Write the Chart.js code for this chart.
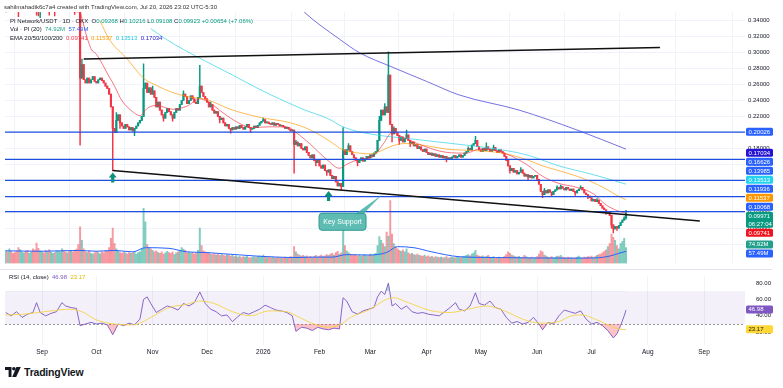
<!DOCTYPE html>
<html>
<head>
<meta charset="utf-8">
<script src="https://cdn.jsdelivr.net/npm/chart.js@4.4.1/dist/chart.umd.min.js"></script>
<style>
html,body{margin:0;padding:0;background:#fff;}
#wrap{position:relative;width:783px;height:388px;overflow:hidden;font-family:"Liberation Sans",Arial,sans-serif;color:#131722;}
canvas{position:absolute;left:0;}
#top{top:0;}
#rsi{top:270px;}
.txt{position:absolute;white-space:pre;font-size:6px;line-height:8px;}
.sep{position:absolute;left:0;width:772px;height:1px;background:#e0e3eb;}
#logo{position:absolute;left:5px;top:366px;font-size:10.5px;font-weight:bold;letter-spacing:-0.2px;display:flex;align-items:center;gap:3px;}
</style>
</head>
<body>
<div id="wrap">
  <canvas id="top" width="783" height="270"></canvas>
  <canvas id="rsi" width="783" height="90"></canvas>
  <div class="sep" style="top:269px"></div>
  <div class="txt" style="left:4px;top:3px;color:#333">sahilmahadik6c7a4 created with TradingView.com, Jul 20, 2026 23:02 UTC-5:30</div>
  <div class="txt" id="leg1" style="left:10px;top:17px"></div>
  <div class="txt" id="leg2" style="left:10px;top:25px"></div>
  <div class="txt" id="leg3" style="left:10px;top:34px"></div>
  <div class="txt" id="leg4" style="left:9px;top:273px"></div>
  <div id="logo"><svg width="16" height="10" viewBox="0 0 16 10"><path d="M0 0h6.5v10H3.6V3H0z" fill="#131722"/><circle cx="8.9" cy="1.8" r="1.8" fill="#131722"/><path d="M11.4 0h4.4l-4.6 10H7.2z" fill="#131722"/></svg><span>TradingView</span></div>
</div>
<script>
// ---- data (day index 0 = 12 Aug 2025, daily candles to 20 Jul 2026) ----
const closes = [
0.372,0.368,0.375,0.37,0.364,0.36,0.358,0.355,0.362,0.366,
0.37,0.368,0.364,0.366,0.372,0.368,0.362,0.356,0.354,0.358,
0.362,0.36,0.356,0.358,0.355,0.357,0.36,0.356,0.358,0.362,
0.365,0.368,0.364,0.36,0.362,0.358,0.36,0.357,0.355,0.354,
0.353,0.268,0.285,0.266,0.262,0.268,0.262,0.266,0.27,0.264,
0.262,0.266,0.268,0.265,0.262,0.258,0.255,0.248,0.232,0.205,
0.2,0.215,0.222,0.212,0.208,0.205,0.21,0.207,0.203,0.206,
0.202,0.205,0.208,0.212,0.215,0.22,0.255,0.262,0.25,0.256,
0.248,0.252,0.244,0.232,0.238,0.228,0.222,0.218,0.225,0.23,
0.226,0.222,0.218,0.225,0.23,0.228,0.235,0.24,0.248,0.245,
0.236,0.24,0.246,0.242,0.238,0.236,0.244,0.258,0.25,0.245,
0.242,0.238,0.232,0.235,0.228,0.224,0.226,0.22,0.216,0.218,
0.212,0.208,0.21,0.205,0.203,0.206,0.204,0.207,0.205,0.209,
0.206,0.204,0.207,0.21,0.206,0.204,0.205,0.208,0.206,0.209,
0.212,0.214,0.216,0.212,0.213,0.211,0.21,0.212,0.209,0.211,
0.21,0.208,0.209,0.207,0.205,0.206,0.204,0.202,0.203,0.185,
0.188,0.183,0.186,0.18,0.178,0.182,0.175,0.171,0.168,0.172,
0.165,0.162,0.165,0.158,0.155,0.159,0.152,0.15,0.153,0.146,
0.142,0.145,0.138,0.133,0.136,0.132,0.178,0.172,0.178,0.183,
0.176,0.172,0.168,0.165,0.162,0.165,0.168,0.164,0.167,0.17,
0.168,0.172,0.17,0.174,0.176,0.19,0.215,0.228,0.222,0.232,
0.225,0.272,0.21,0.198,0.205,0.2,0.196,0.19,0.194,0.188,
0.192,0.197,0.19,0.186,0.188,0.183,0.185,0.18,0.182,0.178,
0.176,0.179,0.175,0.172,0.174,0.171,0.173,0.17,0.172,0.169,
0.171,0.168,0.17,0.166,0.168,0.167,0.169,0.171,0.168,0.17,
0.172,0.169,0.171,0.174,0.176,0.18,0.178,0.184,0.186,0.19,
0.182,0.178,0.176,0.18,0.177,0.182,0.179,0.176,0.178,0.181,
0.177,0.175,0.178,0.176,0.174,0.17,0.165,0.158,0.152,0.155,
0.15,0.152,0.148,0.15,0.153,0.149,0.145,0.147,0.144,0.146,
0.143,0.145,0.146,0.141,0.135,0.126,0.122,0.127,0.124,0.128,
0.125,0.122,0.126,0.128,0.131,0.129,0.132,0.13,0.128,0.131,
0.129,0.127,0.129,0.126,0.124,0.127,0.129,0.131,0.128,0.124,
0.122,0.12,0.118,0.114,0.116,0.113,0.115,0.111,0.108,0.105,
0.103,0.099,0.1,0.096,0.084,0.079,0.082,0.08,0.083,0.087,
0.09,0.09268,0.09923
];
const wickLows = [[7,0.345],[17,0.347],[18,0.346],[19,0.344],[24,0.347],[27,0.346],[38,0.348],[41,0.184],[59,0.152],[63,0.205],[71,0.196],[87,0.214],[92,0.214],[118,0.212],[124,0.199],[135,0.2],[159,0.149],[171,0.158],[177,0.146],[185,0.128],[194,0.158],[213,0.188],[217,0.185],[223,0.182],[243,0.163],[278,0.149],[288,0.14],[296,0.118],[301,0.12],[314,0.121],[321,0.117],[331,0.097],[334,0.08],[335,0.074],[337,0.077],[342,0.09108]];
const wickHighs = [[42,0.292],[61,0.225],[76,0.286],[81,0.258],[98,0.252],[107,0.284],[113,0.238],[142,0.218],[160,0.19],[186,0.206],[189,0.186],[206,0.22],[209,0.236],[211,0.301],[214,0.207],[221,0.203],[255,0.182],[259,0.195],[265,0.187],[269,0.184],[284,0.156],[297,0.13],[304,0.133],[306,0.134],[317,0.133],[326,0.117],[341,0.094],[342,0.10216]];
const volumes = [
62,55,70,58,48,52,60,75,66,54, 50,58,62,48,55,70,64,97,72,60,
55,50,62,58,66,54,48,52,60,58, 56,70,62,54,50,58,62,55,60,68,
90,175,110,70,55,52,60,48,45,50, 58,52,46,55,50,62,58,75,120,168,
95,70,60,52,48,55,50,46,52,48, 50,58,45,52,55,70,263,198,90,75,
70,62,55,60,52,48,55,45,50,58, 52,48,55,42,50,55,60,75,68,62,
50,55,48,52,45,50,62,168,85,60, 55,48,52,45,42,48,40,45,38,42,
40,36,42,38,35,40,32,36,30,34, 28,32,30,35,28,26,30,32,28,34,
36,32,40,30,28,32,26,30,28,25, 30,26,28,24,30,26,28,32,30,80,
55,45,40,35,38,32,36,30,34,28, 32,38,30,35,40,32,36,42,38,45,
48,40,52,58,45,50,160,85,60,52, 45,40,38,42,36,40,35,38,42,36,
40,45,38,42,48,85,128,110,95,80, 150,130,300,140,95,80,70,62,58,65,
55,70,50,45,48,42,40,45,38,36, 35,40,32,36,30,34,28,32,30,28,
30,26,28,32,25,28,30,26,28,32, 30,28,32,35,38,42,36,45,50,62,
40,35,32,36,30,34,38,30,28,32, 28,26,30,25,28,35,42,55,48,40,
36,32,30,34,28,30,38,32,28,26, 30,25,28,32,45,60,55,40,35,30,
28,32,26,30,35,32,38,30,28,25, 30,26,28,24,26,30,35,28,25,30,
28,32,30,35,28,32,38,42,45,50, 58,65,80,95,140,125,110,85,70,95,
105,120,74.92
];
const volMa = [[0,60],[20,58],[40,62],[50,58],[60,62],[70,55],[77,75],[90,72],[100,55],[110,52],[120,46],[130,40],[140,34],[150,30],[160,28],[170,30],[180,30],[188,42],[200,40],[210,52],[216,80],[225,75],[235,55],[250,32],[270,28],[290,26],[310,25],[325,26],[333,35],[338,48],[342,57.49]];

const ema20 = [[40,0.36],[47,0.305],[50,0.298],[57,0.27],[60,0.258],[64,0.24],[70,0.226],[74,0.221],[78,0.23],[83,0.234],[92,0.229],[100,0.233],[107,0.242],[111,0.239],[122,0.221],[130,0.21],[136,0.206],[145,0.207],[155,0.207],[160,0.2],[168,0.185],[177,0.166],[184,0.155],[188,0.16],[195,0.166],[202,0.169],[208,0.185],[213,0.2],[217,0.196],[228,0.185],[243,0.175],[254,0.174],[261,0.179],[268,0.178],[276,0.173],[287,0.16],[296,0.145],[305,0.136],[315,0.131],[324,0.123],[331,0.109],[337,0.102],[342,0.0985]];
const ema50 = [[52,0.34],[57,0.317],[67,0.292],[76,0.268],[83,0.259],[92,0.25],[100,0.245],[111,0.241],[125,0.228],[140,0.219],[157,0.212],[168,0.203],[178,0.19],[186,0.178],[195,0.174],[201,0.173],[208,0.178],[213,0.183],[220,0.186],[230,0.184],[243,0.179],[260,0.177],[274,0.174],[287,0.166],[296,0.158],[305,0.152],[315,0.145],[324,0.137],[331,0.129],[337,0.121],[342,0.1154]];
const ema100 = [[80,0.33],[89,0.316],[107,0.293],[125,0.272],[140,0.254],[151,0.242],[165,0.228],[177,0.218],[187,0.206],[201,0.198],[223,0.192],[250,0.185],[268,0.18],[287,0.172],[305,0.158],[324,0.147],[342,0.1351]];
const ema200 = [[160,0.362],[165,0.35],[184,0.317],[195,0.3],[213,0.282],[232,0.264],[250,0.247],[283,0.228],[315,0.203],[342,0.179]];
const emaLegend = [0.09741, 0.11537, 0.13513, 0.17034];

const levels = [0.20026, 0.16626, 0.13985, 0.11936, 0.10068];
const upperTrend = [[43,0.2921],[360.7,0.3065]];
const lowerTrend = [[58.9,0.1523],[382.7,0.0888]];
const supportArrows = [59, 178];
const lastPrice = 0.09971, countdown = '06:27:04';
const changeText = '+0.00654 (+7.06%)';
const lastVol = 74.92, lastVolMa = 57.49;

const rsi = [[0,44],[3,40],[6,45],[9,38],[12,42],[15,44],[17,56],[19,44],[22,40],[25,43],[28,45],[31,56],[33,52],[36,50],[39,49],[41,28],[44,30],[47,32],[50,30],[53,31],[56,29],[59,17],[62,30],[65,28],[68,31],[71,29],[74,36],[76,60],[78,63],[80,55],[83,44],[86,48],[89,52],[92,50],[95,47],[98,55],[101,52],[104,56],[107,69],[110,55],[113,48],[116,45],[119,40],[122,41],[125,33],[128,39],[131,44],[134,42],[137,45],[140,48],[143,53],[146,50],[149,47],[152,46],[155,44],[158,40],[160,21],[163,26],[166,25],[169,22],[172,26],[175,24],[178,23],[181,25],[184,24],[186,62],[188,58],[191,45],[194,42],[197,46],[200,48],[203,50],[205,63],[207,70],[209,66],[211,80],[213,52],[215,55],[218,48],[221,52],[224,45],[227,43],[230,44],[233,42],[236,41],[239,40],[242,45],[245,50],[248,56],[250,48],[253,46],[256,52],[259,68],[261,55],[264,53],[267,58],[270,50],[273,48],[276,38],[279,31],[282,33],[285,30],[288,32],[291,38],[294,30],[296,23],[299,32],[302,30],[305,40],[308,47],[311,45],[314,43],[317,46],[320,36],[323,30],[326,32],[329,28],[332,22],[335,13],[337,18],[339,28],[341,40],[342,46.98]];
const rsiMa = [[0,41],[10,42],[25,46],[35,48],[42,45],[50,35],[60,30],[70,29],[80,38],[90,50],[100,54],[107,58],[115,55],[125,45],[135,40],[145,46],[155,45],[162,38],[170,30],[178,26],[185,30],[190,38],[200,47],[210,60],[214,62],[222,56],[235,46],[245,44],[255,48],[265,52],[275,46],[285,36],[295,31],[305,33],[312,40],[318,41],[325,36],[333,28],[338,24],[342,23.17]];

const monthTicks = [20,50,81,111,142,173,201,232,262,293,323,354,385];
const monthLabels = ['Sep','Oct','Nov','Dec','2026','Feb','Mar','Apr','May','Jun','Jul','Aug','Sep'];
const priceTicks = [0.06,0.08,0.1,0.12,0.14,0.16,0.18,0.2,0.22,0.24,0.26,0.28,0.3,0.32,0.34];
const rsiTicks = [20,40,60,80];

// ---- style ----
const FONT = '"Liberation Sans", Arial, sans-serif';
const UP = '#089981', DOWN = '#f23645', BLUE = '#2962ff';
const X_MIN = -0.4, X_MAX = 407.6;

const opens = closes.map((c, i) => i === 0 ? c : closes[i - 1]);
const lowMap = Object.fromEntries(wickLows), highMap = Object.fromEntries(wickHighs);
const bodies = [], wicks = [], bodyColors = [], vols = [], volColors = [];
closes.forEach((c, i) => {
  const o = opens[i];
  const lo = Math.min(o, c, lowMap[i] ?? 9), hi = Math.max(o, c, highMap[i] ?? 0);
  const col = c >= o ? UP : DOWN;
  bodies.push({x: i, y: [o, c]});
  wicks.push({x: i, y: [lo, hi]});
  bodyColors.push(col);
  vols.push({x: i, y: volumes[i]});
  volColors.push(c >= o ? 'rgba(8,153,129,0.5)' : 'rgba(242,54,69,0.5)');
});
const pts = arr => arr.map(p => ({x: p[0], y: p[1]}));

function lineDs(data, color, width, order, extra) {
  return Object.assign({type: 'line', data, borderColor: color, borderWidth: width, pointRadius: 0,
    cubicInterpolationMode: 'monotone', order, yAxisID: 'y'}, extra || {});
}

// right-axis value boxes, pushed apart like TradingView does
function drawBoxes(chart, boxes) {
  const ctx = chart.ctx;
  const items = boxes.map(b => ({...b, y: chart.scales[b.axis].getPixelForValue(b.v), h: b.t.length * 8 + 1}))
    .sort((a, b) => a.y - b.y);
  const place = g => {
    let off = 0, s = 0;
    g.items.forEach(it => { s += it.y - (off + it.h / 2); off += it.h; });
    g.top = s / g.items.length; g.h = off;
  };
  let groups = items.map(it => ({items: [it]}));
  groups.forEach(place);
  let changed = true;
  while (changed) {
    changed = false;
    for (let i = 0; i < groups.length - 1; i++) {
      if (groups[i].top + groups[i].h > groups[i + 1].top) {
        const g = {items: groups[i].items.concat(groups[i + 1].items)};
        place(g); groups.splice(i, 2, g); changed = true; break;
      }
    }
  }
  const x0 = chart.chartArea.right + 1;
  ctx.save();
  ctx.font = '6px ' + FONT; ctx.textBaseline = 'middle'; ctx.textAlign = 'left';
  groups.forEach(g => {
    let y = g.top;
    g.items.forEach(it => {
      ctx.fillStyle = it.bg;
      ctx.beginPath(); ctx.roundRect(x0, y, 27, it.h - 1, 1.5); ctx.fill();
      ctx.fillStyle = it.fg;
      it.t.forEach((s, k) => ctx.fillText(s, x0 + 2.5, y + 4.2 + k * 8));
      y += it.h;
    });
  });
  ctx.restore();
}

const trendAt = (tr, d) => tr[0][1] + (tr[1][1] - tr[0][1]) * (d - tr[0][0]) / (tr[1][0] - tr[0][0]);

const topPlugin = {
  id: 'topDecor',
  afterDatasetsDraw(chart) {
    const {ctx} = chart, xs = chart.scales.x, ys = chart.scales.y;
    ctx.save();
    // support arrows under the lower trend line
    ctx.fillStyle = '#0c8f7b';
    supportArrows.forEach(d => {
      const x = xs.getPixelForValue(d), y = ys.getPixelForValue(trendAt(lowerTrend, d)) + 2;
      ctx.beginPath();
      ctx.moveTo(x, y); ctx.lineTo(x + 4, y + 5); ctx.lineTo(x + 1.6, y + 5); ctx.lineTo(x + 1.6, y + 10);
      ctx.lineTo(x - 1.6, y + 10); ctx.lineTo(x - 1.6, y + 5); ctx.lineTo(x - 4, y + 5); ctx.closePath(); ctx.fill();
    });
    // "Key Support" callout
    const ax = xs.getPixelForValue(207.4), ay = ys.getPixelForValue(trendAt(lowerTrend, 207.4));
    const bx = xs.getPixelForValue(185.7) - 23.5, by = ys.getPixelForValue(0.0879) - 8.5;
    ctx.fillStyle = 'rgba(67,176,166,0.85)';
    ctx.beginPath(); ctx.moveTo(bx + 36, by + 1); ctx.lineTo(bx + 44, by + 1); ctx.lineTo(ax, ay + 1); ctx.closePath(); ctx.fill();
    ctx.strokeStyle = '#2f9a90'; ctx.lineWidth = 1;
    ctx.beginPath(); ctx.roundRect(bx, by, 47, 17, 3); ctx.fill(); ctx.stroke();
    ctx.fillStyle = '#fff'; ctx.font = '7px ' + FONT; ctx.textAlign = 'center'; ctx.textBaseline = 'middle';
    ctx.fillText('Key Support', bx + 23.5, by + 8.8);
    ctx.restore();
  },
  afterDraw(chart) {
    drawBoxes(chart, [
      ...levels.map(v => ({axis: 'y', v, t: [v.toFixed(5)], bg: BLUE, fg: '#fff'})),
      {axis: 'y', v: emaLegend[3], t: [emaLegend[3].toFixed(5)], bg: '#2414d2', fg: '#fff'},
      {axis: 'y', v: emaLegend[2], t: [emaLegend[2].toFixed(5)], bg: '#22d3ee', fg: '#fff'},
      {axis: 'y', v: emaLegend[1], t: [emaLegend[1].toFixed(5)], bg: '#ff9800', fg: '#fff'},
      {axis: 'y', v: lastPrice, t: [lastPrice.toFixed(5), countdown], bg: UP, fg: '#fff'},
      {axis: 'y', v: emaLegend[0], t: [emaLegend[0].toFixed(5)], bg: '#f0141e', fg: '#fff'},
      {axis: 'yVol', v: lastVol, t: [lastVol.toFixed(2) + 'M'], bg: '#22a08c', fg: '#fff'},
      {axis: 'yVol', v: lastVolMa, t: [lastVolMa.toFixed(2) + 'M'], bg: BLUE, fg: '#fff'}
    ]);
  }
};

const gridCol = '#f0f3fa';
new Chart(document.getElementById('top'), {
  type: 'bar',
  data: {
    datasets: [
      {data: vols, backgroundColor: volColors, yAxisID: 'yVol', barThickness: 1.3, grouped: false, order: 20},
      {data: wicks, backgroundColor: bodyColors, yAxisID: 'y', barThickness: 0.8, grouped: false, order: 12},
      {data: bodies, backgroundColor: bodyColors, yAxisID: 'y', barThickness: 1.5, grouped: false, minBarLength: 1, order: 11},
      lineDs(pts(volMa), '#2962ff', 1, 15, {yAxisID: 'yVol'}),
      lineDs(pts(ema20), 'rgba(242,54,69,0.75)', 0.9, 6),
      lineDs(pts(ema50), 'rgba(255,152,0,0.75)', 0.9, 6),
      lineDs(pts(ema100), 'rgba(38,208,230,0.75)', 0.9, 6),
      lineDs(pts(ema200), 'rgba(76,70,214,0.85)', 0.9, 6),
      ...levels.map(v => lineDs([{x: X_MIN, y: v}, {x: X_MAX, y: v}], '#1f4fe0', 1.3, 2)),
      lineDs(pts(upperTrend), '#111', 1.5, 1),
      lineDs(pts(lowerTrend), '#111', 1.5, 1)
    ]
  },
  options: {
    responsive: false, animation: false, events: [],
    layout: {padding: {left: 5, top: 12, right: 0, bottom: 1}},
    plugins: {legend: {display: false}, tooltip: {enabled: false}},
    scales: {
      x: {type: 'linear', min: X_MIN, max: X_MAX, offset: false,
        afterBuildTicks: s => { s.ticks = monthTicks.map(v => ({value: v})); },
        afterFit: s => { s.height = 0; },
        ticks: {display: false}, grid: {color: gridCol, drawTicks: false}, border: {display: false}},
      y: {position: 'right', min: 0.0357, max: 0.351,
        afterBuildTicks: s => { s.ticks = priceTicks.map(v => ({value: v})); },
        afterFit: s => { s.width = 38; },
        ticks: {callback: v => v.toFixed(5), color: '#131722', font: {size: 6, family: FONT}, padding: 3},
        grid: {color: gridCol, drawTicks: false}, border: {display: false}},
      yVol: {position: 'right', min: 0, max: 1200, display: false}
    }
  },
  plugins: [topPlugin]
});

// ---- RSI pane ----
const rsiPlugin = {
  id: 'rsiDecor',
  beforeDatasetsDraw(chart) {
    const {ctx, chartArea: a} = chart, ys = chart.scales.y;
    const y70 = ys.getPixelForValue(70), y30 = ys.getPixelForValue(30);
    ctx.save();
    ctx.fillStyle = 'rgba(126,87,194,0.09)';
    ctx.fillRect(a.left, y70, a.right - a.left, y30 - y70);
    ctx.strokeStyle = '#787b86'; ctx.lineWidth = 0.8; ctx.setLineDash([2, 2]);
    ctx.beginPath(); ctx.moveTo(a.left, y30 + 0.5); ctx.lineTo(a.right, y30 + 0.5); ctx.stroke();
    ctx.restore();
  },
  afterDraw(chart) {
    drawBoxes(chart, [
      {axis: 'y', v: rsi[rsi.length - 1][1], t: [rsi[rsi.length - 1][1].toFixed(2)], bg: '#7e57c2', fg: '#fff'},
      {axis: 'y', v: rsiMa[rsiMa.length - 1][1], t: [rsiMa[rsiMa.length - 1][1].toFixed(2)], bg: '#fdd835', fg: '#131722'}
    ]);
  }
};

new Chart(document.getElementById('rsi'), {
  type: 'line',
  data: {
    datasets: [
      {data: pts(rsi), borderColor: '#7e57c2', borderWidth: 0.9, pointRadius: 0, order: 2,
        fill: {target: {value: 30}, above: 'rgba(0,0,0,0)', below: 'rgba(242,54,69,0.3)'}},
      {data: pts(rsi), borderWidth: 0, pointRadius: 0, order: 3,
        fill: {target: {value: 70}, above: 'rgba(8,153,129,0.3)', below: 'rgba(0,0,0,0)'}},
      {data: pts(rsiMa), borderColor: '#f5d547', borderWidth: 0.9, pointRadius: 0, order: 1,
        cubicInterpolationMode: 'monotone'}
    ]
  },
  options: {
    responsive: false, animation: false, events: [],
    layout: {padding: {left: 5, top: 0, right: 0, bottom: 0}},
    plugins: {legend: {display: false}, tooltip: {enabled: false}},
    scales: {
      x: {type: 'linear', min: X_MIN, max: X_MAX, offset: false,
        afterBuildTicks: s => { s.ticks = monthTicks.map(v => ({value: v})); },
        afterFit: s => { s.height = 15; },
        ticks: {callback: (v, i) => monthLabels[i], color: '#131722', font: {size: 6.5, family: FONT}, padding: 3, maxRotation: 0, autoSkip: false},
        grid: {color: gridCol, drawTicks: false}, border: {display: false}},
      y: {position: 'right', min: 4.44, max: 87.78,
        afterBuildTicks: s => { s.ticks = rsiTicks.map(v => ({value: v})); },
        afterFit: s => { s.width = 38; },
        ticks: {callback: v => v.toFixed(2), color: '#131722', font: {size: 6, family: FONT}, padding: 3},
        grid: {display: false}, border: {display: false}}
    }
  },
  plugins: [rsiPlugin]
});

// ---- legends ----
const sp = (t, c) => `<span style="color:${c}">${t}</span>`;
const n = closes.length - 1;
const o = opens[n], c = closes[n], h = highMap[n], l = lowMap[n];
document.getElementById('leg1').innerHTML = 'PI Network/USDT · 1D · OKX  O' + sp(o.toFixed(5), UP) + ' H' + sp(h.toFixed(5), UP) +
  ' L' + sp(l.toFixed(5), UP) + ' C' + sp(c.toFixed(5), UP) + ' ' + sp(changeText, UP);
document.getElementById('leg2').innerHTML = 'Vol · PI (20)  ' + sp(lastVol.toFixed(2) + 'M', '#22a08c') + '  ' + sp(lastVolMa.toFixed(2) + 'M', BLUE);
document.getElementById('leg3').innerHTML = 'EMA 20/50/100/200  ' + sp(emaLegend[0].toFixed(5), DOWN) + '  ' + sp(emaLegend[1].toFixed(5), '#ff9800') +
  '  ' + sp(emaLegend[2].toFixed(5), '#22c8dd') + '  ' + sp(emaLegend[3].toFixed(5), '#2414d2');
document.getElementById('leg4').innerHTML = 'RSI (14, close)  ' + sp(rsi[rsi.length - 1][1].toFixed(2), '#7e57c2') + '  ' + sp(rsiMa[rsiMa.length - 1][1].toFixed(2), '#e0b800');
</script>
</body>
</html>
